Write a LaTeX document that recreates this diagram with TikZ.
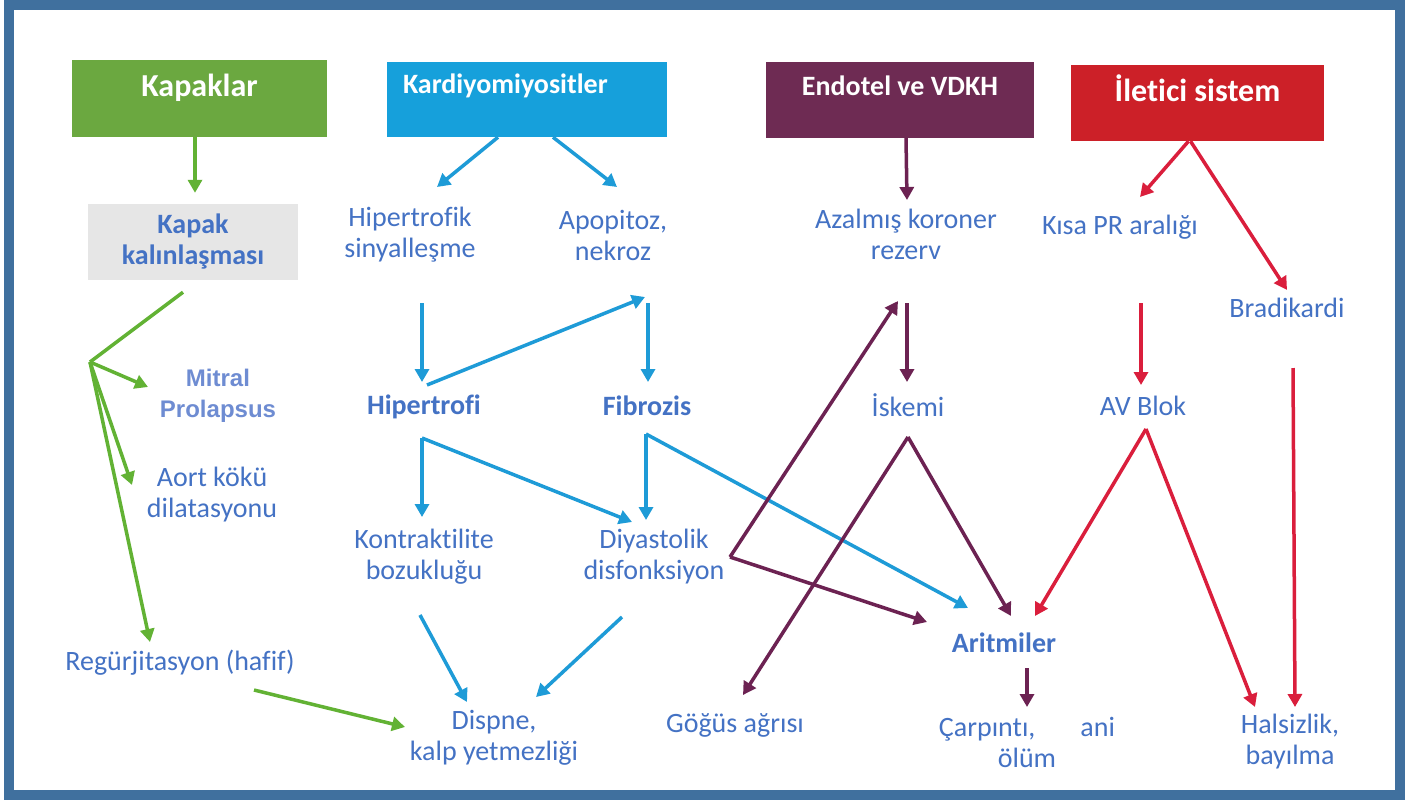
\documentclass[tikz,border=0pt]{standalone}
\usepackage{fontspec}
\setmainfont{Carlito}[Ligatures=NoCommon]
\newfontfamily\arialfont{Liberation Sans}
\usetikzlibrary{arrows.meta}

\definecolor{frameblue}{RGB}{64,112,158}
\definecolor{kgreen}{RGB}{107,168,64}
\definecolor{kblue}{RGB}{22,160,219}
\definecolor{kpurple}{RGB}{110,43,83}
\definecolor{kred}{RGB}{204,32,40}
\definecolor{kgrey}{RGB}{230,230,230}
\definecolor{txtblue}{RGB}{68,114,196}
\definecolor{lightblue}{RGB}{110,140,210}
\definecolor{agreen}{RGB}{98,178,52}
\definecolor{ablue}{RGB}{30,155,215}
\definecolor{apurple}{RGB}{108,34,82}
\definecolor{ared}{RGB}{218,30,60}

\begin{document}
\begin{tikzpicture}[x=1pt, y=-1pt,
    head/.style={rectangle, fill=#1, text=white, inner sep=0pt, font=\fontsize{28}{31}\selectfont\bfseries},
    item/.style={text=txtblue, align=center, inner sep=0pt, font=\fontsize{28}{31}\selectfont},
    key/.style={item, font=\fontsize{28}{31}\selectfont\bfseries},
    link/.style={line width=3.5pt, draw=#1, -{Triangle[length=13pt,width=14pt]}},
    plain/.style={line width=3.5pt, draw=#1}]

    \useasboundingbox (0,0) rectangle (1407,801);
    \fill[white] (0,0) rectangle (1407,801);
    \draw[frameblue, line width=10pt] (9,5) rectangle (1400,795);

    % Headers
    \node[head=kgreen, minimum width=255pt, minimum height=77pt, text height=20pt, text depth=25pt,
          font=\fontsize{32}{36}\selectfont\bfseries] (kapak) at (199.5,98.5) {Kapaklar};
    \node[head=kblue, minimum width=280pt, minimum height=75pt, text width=248pt, align=left,
          text height=18pt, text depth=31pt] (kardio) at (527,99.5) {Kardiyomiyositler};
    \node[head=kpurple, minimum width=268pt, minimum height=76pt, text height=18pt, text depth=28pt] (endotel) at (900,100) {Endotel ve VDKH};
    \node[head=kred, minimum width=253pt, minimum height=76pt, text height=20pt, text depth=24pt,
          font=\fontsize{32}{36}\selectfont\bfseries] (iletici) at (1197.5,103) {İletici sistem};

    % Kapaklar column
    \node[key, fill=kgrey, minimum width=210pt, minimum height=76pt] (kalin) at (193,242) {Kapak\\kalınlaşması};
    \node[item, text=lightblue, font=\arialfont\fontsize{24}{31}\selectfont\bfseries] (mitral) at (218,396) {Mitral\\Prolapsus};
    \node[item] (aort) at (212,495) {Aort kökü\\dilatasyonu};
    \node[item] (regur) at (180,663) {Regürjitasyon (hafif)};
    \coordinate (fork) at (90,362);

    % Kardiyomiyositler column
    \node[item] (hipsin) at (410,235) {Hipertrofik\\sinyalleşme};
    \node[item] (apop) at (613,235) {Apopitoz,\\nekroz};
    \node[key] (hipert) at (424,407) {Hipertrofi};
    \node[key] (fibro) at (647,406) {Fibrozis};
    \node[item] (kontr) at (424,557) {Kontraktilite\\bozukluğu};
    \node[item] (diyas) at (654,557) {Diyastolik\\disfonksiyon};
    \node[item] (dispne) at (494,738) {Dispne,\\kalp yetmezliği};

    % Endotel column
    \node[item] (azal) at (906,234) {Azalmış koroner\\rezerv};
    \node[item] (iskemi) at (908,405) {İskemi};
    \node[item] (gogus) at (735,725) {Göğüs ağrısı};
    \node[key] (aritm) at (1004,643) {Aritmiler};
    \node[item] (carp) at (1027,742) {Çarpıntı,\hspace{45pt}ani\\ölüm};

    % Iletici column
    \node[item] (kisa) at (1120,227) {Kısa PR aralığı};
    \node[item] (brad) at (1287,308) {Bradikardi};
    \node[item] (avblok) at (1143,406) {AV Blok};
    \node[item] (halsiz) at (1290,742) {Halsizlik,\\bayılma};

    % green
    \draw[link=agreen] ([shift={(2,0)}]kalin.north |- kapak.south) -- ([shift={(2,-11)}]kalin.north);
    \draw[plain=agreen] ([shift={(-10,12)}]kalin.south) -- (fork);
    \draw[link=agreen] (fork) -- ([shift={(-70,-9)}]mitral.center);
    \draw[link=agreen] (fork) -- ([shift={(-80,-10)}]aort.center);
    \draw[link=agreen] (fork) -- ([shift={(-30,-21)}]regur.center);
    \draw[link=agreen] ([shift={(74,27)}]regur.center) -- ([shift={(-89,-11)}]dispne.center);

    % blue
    \draw[link=ablue] ([shift={(-29,0)}]kardio.south) -- ([shift={(27,-48)}]hipsin.center);
    \draw[link=ablue] ([shift={(26,0)}]kardio.south) -- ([shift={(4,-48)}]apop.center);
    \draw[link=ablue] ([shift={(12,68)}]hipsin.center) -- ([shift={(-2,-25)}]hipert.center);
    \draw[link=ablue] ([shift={(3,-22)}]hipert.center) -- ([shift={(32,62)}]apop.center);
    \draw[link=ablue] ([shift={(35,68)}]apop.center) -- ([shift={(1,-24)}]fibro.center);
    \draw[link=ablue] ([shift={(-2,31)}]hipert.center) -- ([shift={(-2,-40)}]kontr.center);
    \draw[link=ablue] ([shift={(-2,31)}]hipert.center) -- ([shift={(-22,-35)}]diyas.center);
    \draw[link=ablue] ([shift={(-1,28)}]fibro.center) -- ([shift={(-8,-37)}]diyas.center);
    \draw[link=ablue] ([shift={(-1,28)}]fibro.center) -- ([shift={(-36,-35)}]aritm.center);
    \draw[link=ablue] ([shift={(-4,58)}]kontr.center) -- ([shift={(-27,-36)}]dispne.center);
    \draw[link=ablue] ([shift={(-32,60)}]diyas.center) -- ([shift={(42,-41)}]dispne.center);

    % purple
    \draw[link=apurple] (azal.north |- endotel.south) -- ([shift={(1,-34)}]azal.center);
    \draw[link=apurple] ([shift={(76,0)}]diyas.center) -- ([shift={(-8,67)}]azal.center);
    \draw[link=apurple] ([shift={(76,0)}]diyas.center) -- ([shift={(-77,-21)}]aritm.center);
    \draw[link=apurple] ([shift={(1,69)}]azal.center) -- ([shift={(-1,-23)}]iskemi.center);
    \draw[link=apurple] ([shift={(0,32)}]iskemi.center) -- ([shift={(8,-30)}]gogus.center);
    \draw[link=apurple] ([shift={(0,32)}]iskemi.center) -- ([shift={(7,-27)}]aritm.center);
    \draw[link=apurple] ([shift={(23,25)}]aritm.center) -- ([shift={(0,-35)}]carp.center);

    % red
    \draw[link=ared] ([shift={(-9,0)}]iletici.south) -- ([shift={(20,-30)}]kisa.center);
    \draw[link=ared] ([shift={(-7,0)}]iletici.south) -- ([shift={(0,-18)}]brad.center);
    \draw[link=ared] ([shift={(21,76)}]kisa.center) -- ([shift={(-2,-21)}]avblok.center);
    \draw[link=ared] ([shift={(3,23)}]avblok.center) -- ([shift={(31,-27)}]aritm.center);
    \draw[link=ared] ([shift={(3,23)}]avblok.center) -- ([shift={(-35,-35)}]halsiz.center);
    \draw[link=ared] ([shift={(6,60)}]brad.center) -- ([shift={(5,-35)}]halsiz.center);

\end{tikzpicture}
\end{document}
